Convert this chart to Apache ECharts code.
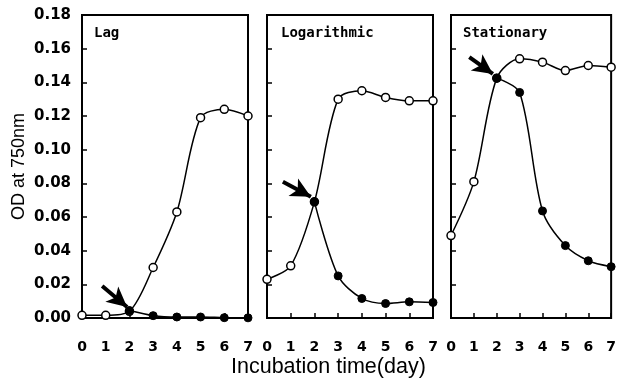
<!DOCTYPE html>
<html>
<head>
<meta charset="utf-8">
<script src="https://cdn.jsdelivr.net/npm/echarts@6/dist/echarts.min.js"></script>
<style>
  html,body{margin:0;padding:0;background:#fff;}
  #chart{width:619px;height:381px;}
</style>
</head>
<body>
<div id="chart"></div>
<script>
// 数据
var days = [0, 1, 2, 3, 4, 5, 6, 7];
var panelNames = ['Lag', 'Logarithmic', 'Stationary'];
// 空心圆（第0天开始）
var lagOpen = [0.0016, 0.0016, 0.004, 0.030, 0.063, 0.119, 0.124, 0.120];
var logOpen = [0.023, 0.031, 0.069, 0.130, 0.135, 0.131, 0.129, 0.129];
var statOpen = [0.049, 0.081, 0.1425, 0.154, 0.152, 0.147, 0.150, 0.149];
// 实心圆（第2天开始）
var filledDays = [2, 3, 4, 5, 6, 7];
var lagFilled = [0.0044, 0.0014, 0.0006, 0.0006, 0.0002, 0.0001];
var logFilled = [0.069, 0.025, 0.0116, 0.0086, 0.0096, 0.0092];
var statFilled = [0.1425, 0.134, 0.0636, 0.043, 0.034, 0.0305];
// 箭头 [起点, 终点]
var arrows = [
  [[0.85, 0.019], [1.9, 0.0065]],
  [[0.67, 0.081], [1.85, 0.072]],
  [[0.8, 0.155], [1.83, 0.145]]
];
var yTicks = [0, 0.18, 0.02];

(function(){
  var myChart = echarts.init(document.getElementById('chart'));
  var openData = [lagOpen, logOpen, statOpen];
  var filledData = [lagFilled, logFilled, statFilled];
  var lefts = [82, 267, 451];
  var titleLefts = [89, 276, 458];

  var grid = [], xAxis = [], yAxis = [], series = [], title = [];
  for (var i = 0; i < 3; i++) {
    grid.push({
      left: lefts[i], width: 166, top: 15, bottom: 63,
      show: true, borderColor: '#000', borderWidth: 2, backgroundColor: 'transparent'
    });
    xAxis.push({
      gridIndex: i, type: 'value', min: 0, max: 7, interval: 1,
      axisLine: {show: true, lineStyle: {color: '#000', width: 2}},
      axisTick: {show: true, inside: true, length: 5, lineStyle: {color: '#000', width: 1.5}},
      axisLabel: {color: '#000', fontSize: 14, fontWeight: 'bold', fontFamily: 'DejaVu Sans', margin: 22,
        showMinLabel: true, showMaxLabel: true},
      splitLine: {show: false}
    });
    yAxis.push({
      gridIndex: i, type: 'value', min: yTicks[0], max: yTicks[1], interval: yTicks[2],
      axisLine: {show: true, lineStyle: {color: '#000', width: 2}},
      axisTick: {show: true, inside: true, length: 5, lineStyle: {color: '#000', width: 1.5}},
      axisLabel: {show: i === 0, color: '#000', fontSize: 15, fontWeight: 'bold', fontFamily: 'DejaVu Sans', margin: 11,
        formatter: function(v){ return v.toFixed(2); }},
      splitLine: {show: false},
      name: i === 0 ? 'OD at 750nm' : '',
      nameLocation: 'middle', nameGap: 54,
      nameTextStyle: {color: '#000', fontSize: 18, fontFamily: 'Liberation Sans'}
    });
    title.push({
      text: panelNames[i], left: titleLefts[i], top: 21,
      textStyle: {color: '#000', fontSize: 14, fontWeight: 'bold', fontFamily: 'DejaVu Sans Mono'}
    });
    series.push({
      type: 'line', xAxisIndex: i, yAxisIndex: i, smooth: 0.3,
      data: days.map(function(d, k){ return [d, openData[i][k]]; }),
      symbol: 'circle', symbolSize: 8,
      itemStyle: {color: '#fff', borderColor: '#000', borderWidth: 1.5},
      lineStyle: {color: '#000', width: 1.5},
      z: 3
    });
    series.push({
      type: 'line', xAxisIndex: i, yAxisIndex: i, smooth: 0.3,
      data: filledDays.map(function(d, k){ return [d, filledData[i][k]]; }),
      symbol: 'circle', symbolSize: 8,
      itemStyle: {color: '#000', borderColor: '#000', borderWidth: 1},
      lineStyle: {color: '#000', width: 1.5},
      z: 4,
      markLine: {
        silent: true, animation: false,
        symbol: ['none', 'arrow'], symbolSize: [15, 20],
        label: {show: false},
        lineStyle: {color: '#000', width: 4, type: 'solid'},
        data: [[{coord: arrows[i][0]}, {coord: arrows[i][1]}]]
      }
    });
  }
  title.push({
    text: 'Incubation time(day)', left: 226, top: 351,
    textStyle: {color: '#000', fontSize: 21.5, fontWeight: 'normal', fontFamily: 'Liberation Sans'}
  });

  var option = {
    animation: false,
    title: title,
    grid: grid,
    xAxis: xAxis,
    yAxis: yAxis,
    series: series
  };
  myChart.setOption(option);
})();
</script>
</body>
</html>
